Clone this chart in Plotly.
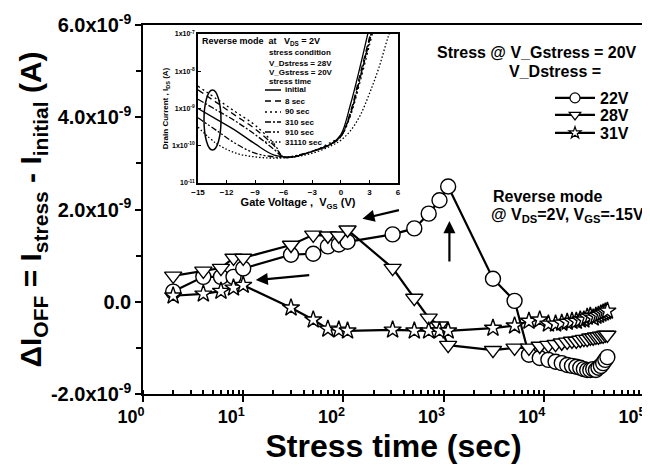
import plotly.graph_objects as go
import numpy as np

# ---------------- main data ----------------
time_s = [2, 4, 6, 8, 10, 30, 50, 70, 90, 110, 310, 510, 710, 910, 1110, 3110, 5110,
          7110, 9110, 11110, 13110, 15110, 17110, 19110, 21110, 23110, 25110, 27110,
          29110, 31110, 33110, 35110, 37110, 39110, 41110, 43110]

d_ioff_22V = [0.22, 0.54, 0.54, 0.54, 0.72, 1.02, 1.04, 1.20, 1.24, 1.30,
              1.46, 1.59, 1.91, 2.20, 2.50, 0.50, 0.02,
              -1.15, -1.22, -1.26, -1.30, -1.33, -1.37, -1.39, -1.41, -1.43, -1.46,
              -1.48, -1.48, -1.46, -1.48, -1.43, -1.39, -1.33, -1.26, -1.20]
d_ioff_28V = [0.56, 0.67, 0.73, 0.95, 0.95, 1.23, 1.45, 1.43, 1.43, 1.56,
              0.73, 0.08, -0.35, -0.52, -0.94, -1.05, -1.00,
              -1.00, -0.96, -0.94, -0.92, -0.89, -0.87, -0.85, -0.85, -0.83, -0.81,
              -0.81, -0.78, -0.78, -0.76, -0.76, -0.74, -0.74, -0.72, -0.72]
d_ioff_31V = [0.13, 0.17, 0.23, 0.30, 0.36, -0.13, -0.39, -0.59, -0.61, -0.63,
              -0.61, -0.63, -0.63, -0.63, -0.63, -0.57, -0.52,
              -0.42, -0.39, -0.48, -0.48, -0.46, -0.44, -0.42, -0.42, -0.39, -0.39,
              -0.33, -0.31, -0.35, -0.31, -0.29, -0.26, -0.24, -0.22, -0.20]
series_names = ["22V", "28V", "31V"]

x_tick_vals = [1, 10, 100, 1000, 10000, 100000]
x_tick_text = ["10<sup>0</sup>", "10<sup>1</sup>", "10<sup>2</sup>", "10<sup>3</sup>",
               "10<sup>4</sup>", "10<sup>5</sup>"]
y_tick_vals = [-2e-9, 0, 2e-9, 4e-9, 6e-9]
y_tick_text = ["-2.0x10<sup>-9</sup>", "0.0", "2.0x10<sup>-9</sup>",
               "4.0x10<sup>-9</sup>", "6.0x10<sup>-9</sup>"]

# ---------------- inset data ----------------
vgs_initial = [-15, -13, -11, -9, -7, -5, -3, -1, 0, 1, 2, 3]
logi_initial = [-9.0, -9.3, -9.6, -9.95, -10.25, -10.3, -10.15, -9.95, -9.7, -8.9, -7.9, -6.8]
vgs_8s = [-15, -13, -11, -9, -7, -6, -5, -3, -1, 0, 1, 2, 3, 3.5]
logi_8s = [-8.5, -8.85, -9.2, -9.55, -10.0, -10.3, -10.3, -10.15, -9.95, -9.75, -9.1, -8.1, -7.1, -6.6]
vgs_90s = [-15, -13, -11, -9, -7, -6, -3, -1, 0, 1, 2, 3, 3.6]
logi_90s = [-8.4, -8.75, -9.1, -9.45, -9.95, -10.3, -10.15, -9.9, -9.75, -9.2, -8.3, -7.3, -6.7]
vgs_310s = [-15, -13, -11, -9, -7, -6, -3, -1, 0, 1, 2, 3, 3.5]
logi_310s = [-8.75, -9.05, -9.35, -9.7, -10.1, -10.3, -10.15, -9.95, -9.75, -9.15, -8.2, -7.2, -6.7]
vgs_910s = [-15, -13, -11, -9, -7, -6, -3, -1, 0, 1, 2, 3, 3.5]
logi_910s = [-9.25, -9.6, -9.95, -10.2, -10.3, -10.32, -10.15, -9.95, -9.75, -9.15, -8.2, -7.15, -6.7]
vgs_31110s = [-15, -13, -11, -9, -7, -5, -3, -1, 0, 1, 2, 3, 4, 5, 6]
logi_31110s = [-9.5, -9.95, -10.2, -10.3, -10.33, -10.3, -10.2, -10.0, -9.85, -9.6, -9.2, -8.6, -7.9, -7.05, -6.4]
inset_labels = ["initial", "8 sec", "90 sec", "310 sec", "910 sec", "31110 sec"]
inset_x_ticks = [-15, -12, -9, -6, -3, 0, 3, 6]
inset_y_vals = [1e-11, 1e-10, 1e-9, 1e-8, 1e-7]
inset_y_text = ["10<sup>-11</sup>", "1x10<sup>-10</sup>", "1x10<sup>-9</sup>",
                "1x10<sup>-8</sup>", "1x10<sup>-7</sup>"]

FONT = "Arial, Liberation Sans, sans-serif"
BOLD = dict(family=FONT, color="black", weight="bold")

x0, x1, y0, y1 = 135, 636, 17, 386  # plot area pixels
def px(x):
    return (x - x0) / (x1 - x0)
def py(y):
    return (y1 - y) / (y1 - y0)

fig = go.Figure()

symbols = ["circle", "triangle-down", "star"]
sizes = [15, 15, 13]
legend_sizes = [10, 10, 9]
series = [d_ioff_22V, d_ioff_28V, d_ioff_31V]
legend_ids = ["legend", "legend2", "legend3"]
for name, vals, sym, sz, lsz, lg in zip(series_names, series, symbols, sizes, legend_sizes, legend_ids):
    fig.add_trace(go.Scatter(
        x=time_s, y=np.array(vals) * 1e-9, name=name, mode="lines+markers",
        line=dict(color="black", width=2.2),
        marker=dict(symbol=sym, size=sz, color="white",
                    line=dict(color="black", width=1.4)),
        showlegend=False, xaxis="x", yaxis="y"))
    # legend-only entry (no data) with a smaller symbol, as in the reference key
    fig.add_trace(go.Scatter(
        x=[None], y=[None], name=name, mode="lines+markers",
        line=dict(color="black", width=2.2),
        marker=dict(symbol=sym, size=lsz, color="white",
                    line=dict(color="black", width=1.2)),
        legend=lg, showlegend=True, xaxis="x", yaxis="y"))

# inset traces
inset_sets = [(vgs_initial, logi_initial, "solid"),
              (vgs_8s, logi_8s, "6px,4px"),
              (vgs_90s, logi_90s, "2px,3px"),
              (vgs_310s, logi_310s, "6px,2px,2px,2px"),
              (vgs_910s, logi_910s, "6px,2px,2px,2px,2px,2px"),
              (vgs_31110s, logi_31110s, "1.5px,2px")]
for (vx, vy, dash), lab in zip(inset_sets, inset_labels):
    fig.add_trace(go.Scatter(
        x=vx, y=10 ** np.array(vy), mode="lines", name=lab, showlegend=False,
        line=dict(color="black", width=1.3, dash=dash, shape="spline"),
        xaxis="x2", yaxis="y2"))

leg_common = dict(x=px(542), xanchor="left", yanchor="middle", bgcolor="rgba(0,0,0,0)",
                  font=dict(size=16, **BOLD), itemwidth=40, itemsizing="trace",
                  borderwidth=0)

fig.update_layout(
    width=650, height=468,
    margin=dict(l=135, r=14, t=17, b=82, autoexpand=False),
    paper_bgcolor="white", plot_bgcolor="white",
    font=dict(family=FONT, color="black"),
    xaxis=dict(type="log", range=[0, 5], tickvals=x_tick_vals, ticktext=x_tick_text,
               ticks="outside", ticklen=6, tickwidth=1.5, tickcolor="black",
               showline=True, linecolor="black", linewidth=1.5, mirror=True,
               showgrid=False, zeroline=False, automargin=False,
               ticklabeloverflow="allow", ticklabelshift=-12,
               minor=dict(ticks="inside", ticklen=4, tickcolor="black", dtick="D1", showgrid=False),
               tickfont=dict(size=18, **BOLD),
               title=dict(text="Stress time (sec)", font=dict(size=32, **BOLD), standoff=8)),
    yaxis=dict(range=[-2e-9, 6e-9], tickvals=y_tick_vals, ticktext=y_tick_text,
               ticks="outside", ticklen=6, tickwidth=1.5, tickcolor="black",
               showline=True, linecolor="black", linewidth=1.5, mirror=True,
               showgrid=False, zeroline=False, automargin=False,
               ticklabeloverflow="allow",
               minor=dict(ticks="outside", ticklen=5, tickcolor="black", dtick=1e-9, showgrid=False),
               tickfont=dict(size=20, **BOLD),
               title=dict(text="ΔI<sub>OFF</sub> = I<sub>stress</sub> - I<sub>initial</sub> (A)",
                          font=dict(size=30, **BOLD), standoff=0)),
    xaxis2=dict(domain=[px(190), px(390)], anchor="y2", range=[-15, 6],
                tickvals=inset_x_ticks, ticks="inside", ticklen=3, tickcolor="black",
                showline=True, linecolor="black", linewidth=1.8, mirror=True,
                showgrid=False, zeroline=False, automargin=False,
                tickfont=dict(size=8, **BOLD),
                title=dict(text="Gate Voltage ,  V<sub>GS</sub> (V)", font=dict(size=11, **BOLD), standoff=2)),
    yaxis2=dict(domain=[py(175), py(26)], anchor="x2", type="log", range=[-11, -7],
                tickvals=inset_y_vals, ticktext=inset_y_text,
                ticks="inside", ticklen=3, tickcolor="black",
                showline=True, linecolor="black", linewidth=1.8, mirror=True,
                showgrid=False, zeroline=False, automargin=False,
                tickfont=dict(size=7, **BOLD),
                title=dict(text="Drain Current , I<sub>DS</sub> (A)", font=dict(size=8, **BOLD), standoff=2)),
    legend=dict(y=py(90), **leg_common),
    legend2=dict(y=py(107), **leg_common),
    legend3=dict(y=py(125), **leg_common),
    showlegend=True,
)

annotations = [
    dict(text="Stress @ V_Gstress = 20V", x=px(631), y=py(45), xanchor="right", yanchor="middle",
         font=dict(size=16, **BOLD)),
    dict(text="V_Dstress =", x=px(595), y=py(63), xanchor="right", yanchor="middle",
         font=dict(size=16, **BOLD)),
    dict(text="Reverse mode", x=px(483), y=py(188), xanchor="left", yanchor="middle",
         font=dict(size=16, **BOLD)),
    dict(text="@ V<sub>DS</sub>=2V, V<sub>GS</sub>=-15V", x=px(481), y=py(207), xanchor="left",
         yanchor="middle", font=dict(size=16, **BOLD)),
    dict(text="Reverse mode  at   V<sub>DS</sub> = 2V", x=px(192), y=py(33), xanchor="left",
         yanchor="middle", font=dict(size=9, **BOLD)),
    dict(text="stress condition", x=px(259), y=py(45), xanchor="left", yanchor="middle",
         font=dict(size=8, **BOLD)),
    dict(text="V_Dstress = 28V", x=px(259), y=py(55), xanchor="left", yanchor="middle",
         font=dict(size=8, **BOLD)),
    dict(text="V_Gstress = 20V", x=px(259), y=py(64), xanchor="left", yanchor="middle",
         font=dict(size=8, **BOLD)),
    dict(text="stress time", x=px(259), y=py(73), xanchor="left", yanchor="middle",
         font=dict(size=8, **BOLD)),
]
for a in annotations:
    a.update(xref="paper", yref="paper", showarrow=False)

shapes = []
row_y = [82, 93, 104, 114, 124, 134]
for (vx, vy, dash), lab, ry in zip(inset_sets, inset_labels, row_y):
    shapes.append(dict(type="line", xref="paper", yref="paper", x0=px(257), x1=px(273),
                       y0=py(ry), y1=py(ry), line=dict(color="black", width=1.5, dash=dash)))
    annotations.append(dict(text=lab, x=px(275), y=py(ry), xref="paper", yref="paper",
                            xanchor="left", yanchor="middle", showarrow=False,
                            font=dict(size=8, **BOLD)))

# ellipse in inset
shapes.append(dict(type="circle", xref="paper", yref="paper", x0=px(196), x1=px(213),
                   y0=py(142), y1=py(82), line=dict(color="black", width=1.5)))

# arrows
arrows = [
    (2.19, 1.80e-9, 38, -9),
    (1.125, 0.47e-9, 55, -5),
    (3.058, 1.75e-9, 0, 42),
]
for ax_, ay_, dx, dy in arrows:
    annotations.append(dict(x=ax_, y=ay_, xref="x", yref="y", ax=dx, ay=dy,
                            showarrow=True, arrowhead=2, arrowsize=1.1, arrowwidth=2.2,
                            arrowcolor="black", text=""))

fig.update_layout(annotations=annotations, shapes=shapes)

fig.write_html("out.html")
